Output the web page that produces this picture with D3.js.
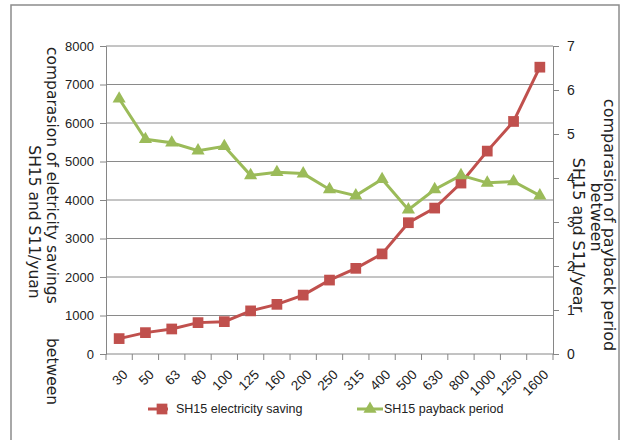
<!DOCTYPE html>
<html lang="en">
<head>
  <meta charset="UTF-8">
  <title>SH15 vs S11</title>
  <style>
    body { margin: 0; background: #ffffff; }
    svg { display: block; font-family: 'Liberation Sans', Arial, sans-serif; }
    .title { font-family: 'DejaVu Sans', sans-serif; fill: #222; }
  </style>
  <script src="https://d3js.org/d3.v7.min.js"></script>
</head>
<body>
  <div id="chart"></div>
  <script>
    // capacities (kVA)
    const categories = ['30','50','63','80','100','125','160','200','250','315','400','500','630','800','1000','1250','1600'];
    // electricity saving, yuan (left axis)
    const saving = [400, 555, 650, 815, 840, 1120, 1290, 1530, 1920, 2225, 2600, 3410, 3790, 4440, 5270, 6040, 7450];
    // payback period, year (right axis)
    const payback = [5.8, 4.88, 4.8, 4.62, 4.72, 4.06, 4.13, 4.1, 3.74, 3.6, 3.97, 3.28, 3.74, 4.06, 3.89, 3.92, 3.6];
    const leftTicks = [0,1000,2000,3000,4000,5000,6000,7000,8000];
    const rightTicks = [0,1,2,3,4,5,6,7];
    const seriesNames = ['SH15 electricity saving', 'SH15 payback period'];

    const W = 620, H = 440;
    const P = { left: 106, right: 553, top: 46, bottom: 354 };
    const RED = '#c0504d', GREEN = '#9bbb59', AX = '#868686';

    const svg = d3.select('#chart').append('svg').attr('width', W).attr('height', H);

    // outer frame
    svg.append('rect').attr('x', 11).attr('y', 5).attr('width', 608).attr('height', 445)
      .attr('fill', 'none').attr('stroke', '#8c8c8c').attr('stroke-width', 1.5);

    const x = d3.scaleBand().domain(categories).range([P.left, P.right]);
    const yL = d3.scaleLinear().domain([0, 8000]).range([P.bottom, P.top]);
    const yR = d3.scaleLinear().domain([0, 7]).range([P.bottom, P.top]);
    const cx = d => x(d) + x.bandwidth() / 2;

    // gridlines
    svg.append('g').selectAll('line').data(leftTicks.slice(1)).join('line')
      .attr('x1', P.left).attr('x2', P.right)
      .attr('y1', d => yL(d)).attr('y2', d => yL(d))
      .attr('stroke', '#8a8a8a').attr('stroke-width', 1);

    // left axis
    const gL = svg.append('g').attr('transform', `translate(${P.left},0)`)
      .call(d3.axisLeft(yL).tickValues(leftTicks).tickFormat(d3.format('d')).tickSize(6).tickPadding(6));
    gL.selectAll('path, line').attr('stroke', AX);
    gL.selectAll('text').attr('font-size', 13).attr('fill', '#222');

    // right axis
    const gR = svg.append('g').attr('transform', `translate(${P.right},0)`)
      .call(d3.axisRight(yR).tickValues(rightTicks).tickFormat(d3.format('d')).tickSize(6).tickPadding(8));
    gR.selectAll('path, line').attr('stroke', AX);
    gR.selectAll('text').attr('font-size', 14).attr('fill', '#222');

    // bottom axis with ticks at band edges
    svg.append('line').attr('x1', P.left).attr('x2', P.right)
      .attr('y1', P.bottom).attr('y2', P.bottom).attr('stroke', AX);
    const edges = categories.map(c => x(c)).concat([P.right]);
    svg.append('g').selectAll('line').data(edges).join('line')
      .attr('x1', d => d).attr('x2', d => d)
      .attr('y1', P.bottom).attr('y2', P.bottom + 6).attr('stroke', AX);
    svg.append('g').selectAll('text').data(categories).join('text')
      .attr('transform', d => `translate(${cx(d) + 6},${P.bottom + 18}) rotate(-45)`)
      .attr('text-anchor', 'end').attr('dy', '0.35em')
      .attr('font-size', 13.5).attr('fill', '#222').text(d => d);

    // lines
    const lineL = d3.line().x((d, i) => cx(categories[i])).y(d => yL(d));
    const lineR = d3.line().x((d, i) => cx(categories[i])).y(d => yR(d));
    svg.append('path').datum(saving).attr('d', lineL)
      .attr('fill', 'none').attr('stroke', RED).attr('stroke-width', 3);
    svg.append('path').datum(payback).attr('d', lineR)
      .attr('fill', 'none').attr('stroke', GREEN).attr('stroke-width', 3);

    const sq = d3.symbol().type(d3.symbolSquare).size(115);
    const tri = d3.symbol().type(d3.symbolTriangle).size(75);
    svg.append('g').selectAll('path').data(saving).join('path')
      .attr('d', sq)
      .attr('transform', (d, i) => `translate(${cx(categories[i])},${yL(d)})`)
      .attr('fill', RED);
    svg.append('g').selectAll('path').data(payback).join('path')
      .attr('d', tri)
      .attr('transform', (d, i) => `translate(${cx(categories[i])},${yR(d)})`)
      .attr('fill', GREEN);

    // left title
    const tl = svg.append('g').attr('class', 'title').attr('font-size', 15.5);
    const t1 = tl.append('text').attr('transform', 'translate(47,47) rotate(90)')
      .attr('text-anchor', 'start');
    t1.append('tspan').text('comparasion of eletricity savings');
    t1.append('tspan').attr('x', 291).text('between');
    tl.append('text').attr('transform', 'translate(29,222) rotate(90)')
      .attr('text-anchor', 'middle').text('SH15 and S11/yuan');

    // right title
    const tr = svg.append('g').attr('class', 'title').attr('font-size', 16);
    tr.append('text').attr('transform', 'translate(604,225) rotate(90)')
      .attr('text-anchor', 'middle').text('comparasion of payback period');
    tr.append('text').attr('transform', 'translate(591,217) rotate(90)')
      .attr('text-anchor', 'middle').text('between');
    tr.append('text').attr('transform', 'translate(573,235) rotate(90)')
      .attr('text-anchor', 'middle').text('SH15 and S11/year');

    // legend
    const legendX = [148, 357];
    const lg = svg.append('g').selectAll('g').data(seriesNames).join('g')
      .attr('transform', (d, i) => `translate(${legendX[i]},409)`);
    lg.append('line').attr('x1', 0).attr('x2', (d, i) => i ? 26 : 20)
      .attr('stroke', (d, i) => i ? GREEN : RED).attr('stroke-width', 3);
    lg.append('path')
      .attr('d', (d, i) => i ? tri() : sq())
      .attr('transform', (d, i) => `translate(${i ? 13 : 14},0)`)
      .attr('fill', (d, i) => i ? GREEN : RED);
    lg.append('text').attr('x', (d, i) => i ? 27 : 28).attr('dy', '0.35em')
      .attr('font-size', 12.5).attr('fill', '#222')
      .text(d => d);
  </script>
</body>
</html>
